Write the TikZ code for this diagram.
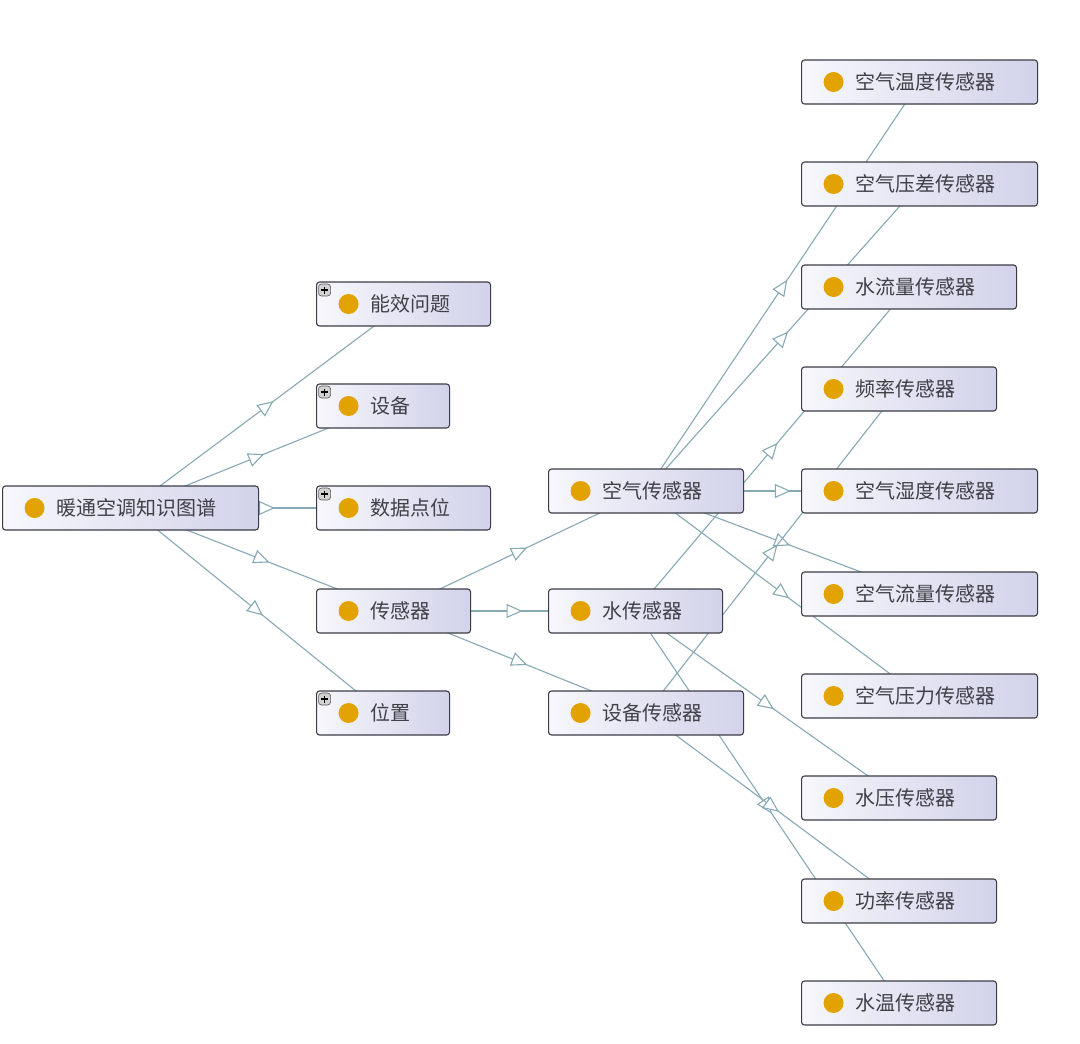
\documentclass[tikz,border=0pt]{standalone}
\usepackage{fontspec}
\setmainfont{Noto Sans CJK SC}
\usetikzlibrary{arrows.meta,decorations.markings,backgrounds}
\definecolor{edgec}{HTML}{86A9B5}
\definecolor{borderc}{HTML}{3C3C48}
\definecolor{fillL}{HTML}{F7F7FC}
\definecolor{fillR}{HTML}{D2D2EA}
\definecolor{dotc}{RGB}{226,163,0}
\definecolor{textc}{HTML}{404048}
\tikzset{
  nbox/.style={draw=borderc, line width=1.1pt, rounded corners=3pt,
    left color=fillL, right color=fillR, minimum height=44pt,
    inner xsep=0pt, inner ysep=0pt, text width=#1, align=left, anchor=west,
    font=\fontsize{20}{20}\selectfont, text=textc,
    path picture={\fill[dotc] ([xshift=32pt]path picture bounding box.west) circle (10pt);}},
  pbox/.style={nbox=#1,
    path picture={\fill[dotc] ([xshift=32pt]path picture bounding box.west) circle (10pt);
      \draw[draw=gray!70!black, fill=gray!35, line width=0.6pt] ([xshift=2pt,yshift=-2pt]path picture bounding box.north west) rectangle +(12pt,-12pt);
      \draw[black, line width=1.2pt] ([xshift=4.5pt,yshift=-8pt]path picture bounding box.north west) -- +(7pt,0pt)
        ([xshift=8pt,yshift=-4.5pt]path picture bounding box.north west) -- +(0pt,-7pt);}},
  edge/.style={draw=edgec, line width=1.1pt, postaction={decorate},
    decoration={markings, mark=at position 0.5 with {\pgftransformxshift{8pt}\arrow{Triangle[open, length=16pt, width=14pt, fill=white]}}}}
}
\newcommand\lbl[1]{\hspace*{54pt}#1}
\begin{document}
\begin{tikzpicture}[x=1pt, y=-1pt]
\useasboundingbox (0,0) rectangle (1080,1044);
% level 0
\node[nbox=256pt] (root) at (2,508) {\lbl{暖通空调知识图谱}};
% level 1
\node[pbox=174pt] (nx) at (316,304) {\lbl{能效问题}};
\node[pbox=133pt] (sb) at (316,406) {\lbl{设备}};
\node[pbox=174pt] (sj) at (316,508) {\lbl{数据点位}};
\node[nbox=154pt] (cg) at (316,611) {\lbl{传感器}};
\node[pbox=133pt] (wz) at (316,713) {\lbl{位置}};
% level 2
\node[nbox=195pt] (kq) at (548,491) {\lbl{空气传感器}};
\node[nbox=174pt] (sc) at (548,611) {\lbl{水传感器}};
\node[nbox=195pt] (sbc) at (548,713) {\lbl{设备传感器}};
% level 3
\node[nbox=236pt] (kwd) at (801,82) {\lbl{空气温度传感器}};
\node[nbox=236pt] (kyc) at (801,184) {\lbl{空气压差传感器}};
\node[nbox=215pt] (sll) at (801,287) {\lbl{水流量传感器}};
\node[nbox=195pt] (pl) at (801,389) {\lbl{频率传感器}};
\node[nbox=236pt] (ksd) at (801,491) {\lbl{空气湿度传感器}};
\node[nbox=236pt] (kll) at (801,594) {\lbl{空气流量传感器}};
\node[nbox=236pt] (kyl) at (801,696) {\lbl{空气压力传感器}};
\node[nbox=195pt] (sy) at (801,798) {\lbl{水压传感器}};
\node[nbox=195pt] (gl) at (801,901) {\lbl{功率传感器}};
\node[nbox=195pt] (sw) at (801,1003) {\lbl{水温传感器}};
% edges
\begin{scope}[on background layer]
\fill[white] (0,0) rectangle (1080,1044);
\draw[edge] (root.center) -- (nx.center);
\draw[edge] (root.center) -- (sb.center);
\draw[edge] (root.center) -- (sj.center);
\draw[edge] (root.center) -- (cg.center);
\draw[edge] (root.center) -- (wz.center);
\draw[edge] (cg.center) -- (kq.center);
\draw[edge] (cg.center) -- (sc.center);
\draw[edge] (cg.center) -- (sbc.center);
\draw[edge] (kq.center) -- (kwd.center);
\draw[edge] (kq.center) -- (kyc.center);
\draw[edge] (kq.center) -- (ksd.center);
\draw[edge] (kq.center) -- (kll.center);
\draw[edge] (kq.center) -- (kyl.center);
\draw[edge] (sc.center) -- (sll.center);
\draw[edge] (sc.center) -- (sy.center);
\draw[edge] (sc.center) -- (sw.center);
\draw[edge] (sbc.center) -- (pl.center);
\draw[edge] (sbc.center) -- (gl.center);
\end{scope}
\end{tikzpicture}
\end{document}
